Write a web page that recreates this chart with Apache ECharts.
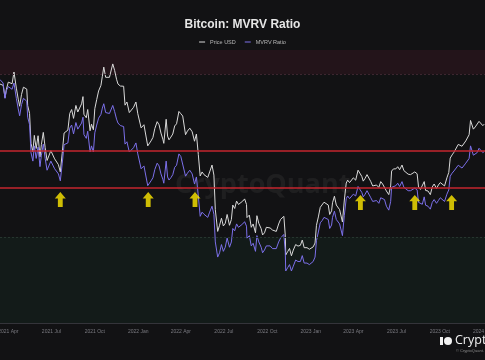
<!DOCTYPE html>
<html><head><meta charset="utf-8">
<script src="https://cdn.jsdelivr.net/npm/echarts@6/dist/echarts.min.js"></script>
<style>html,body{margin:0;padding:0;background:#121214;}#c{width:485px;height:360px;}</style>
</head><body><div id="c"></div>
<script>
const dates = ['2021-03-14','2021-03-18','2021-03-21','2021-03-25','2021-03-28','2021-04-01','2021-04-05','2021-04-09','2021-04-13','2021-04-18','2021-04-22','2021-04-25','2021-04-29','2021-05-03','2021-05-07','2021-05-10','2021-05-12','2021-05-16','2021-05-19','2021-05-23','2021-05-26','2021-05-30','2021-06-03','2021-06-07','2021-06-10','2021-06-14','2021-06-18','2021-06-22','2021-06-26','2021-06-30','2021-07-04','2021-07-08','2021-07-12','2021-07-16','2021-07-20','2021-07-24','2021-07-28','2021-08-01','2021-08-05','2021-08-09','2021-08-13','2021-08-17','2021-08-22','2021-08-26','2021-08-30','2021-09-03','2021-09-06','2021-09-08','2021-09-13','2021-09-16','2021-09-21','2021-09-24','2021-09-28','2021-10-01','2021-10-05','2021-10-09','2021-10-14','2021-10-17','2021-10-20','2021-10-24','2021-10-28','2021-11-01','2021-11-05','2021-11-08','2021-11-12','2021-11-16','2021-11-19','2021-11-24','2021-11-28','2021-12-01','2021-12-04','2021-12-08','2021-12-13','2021-12-17','2021-12-22','2021-12-27','2021-12-31',
'2022-01-04','2022-01-07','2022-01-10','2022-01-13','2022-01-17','2022-01-21','2022-01-24','2022-01-28','2022-02-01','2022-02-05','2022-02-10','2022-02-14','2022-02-18','2022-02-22','2022-02-24','2022-03-01','2022-03-04','2022-03-07','2022-03-11','2022-03-15','2022-03-19','2022-03-23','2022-03-28','2022-04-01','2022-04-05','2022-04-11','2022-04-15','2022-04-20','2022-04-25','2022-04-30','2022-05-04','2022-05-08','2022-05-12','2022-05-16','2022-05-20','2022-05-24','2022-05-28','2022-06-01','2022-06-06','2022-06-10','2022-06-13','2022-06-18','2022-06-22','2022-06-26','2022-06-30','2022-07-04','2022-07-08','2022-07-13','2022-07-17','2022-07-20','2022-07-24','2022-07-28','2022-08-01','2022-08-05','2022-08-10','2022-08-14','2022-08-18','2022-08-19','2022-08-24','2022-08-28','2022-09-01','2022-09-06','2022-09-09','2022-09-13','2022-09-18','2022-09-21','2022-09-25','2022-09-29','2022-10-03','2022-10-07','2022-10-12','2022-10-16','2022-10-20','2022-10-25','2022-10-29','2022-11-05','2022-11-08','2022-11-09','2022-11-13','2022-11-17','2022-11-21','2022-11-25','2022-11-30','2022-12-05','2022-12-10','2022-12-14','2022-12-18','2022-12-24','2022-12-29',
'2023-01-02','2023-01-06','2023-01-10','2023-01-13','2023-01-17','2023-01-21','2023-01-25','2023-01-29','2023-02-02','2023-02-07','2023-02-10','2023-02-14','2023-02-16','2023-02-20','2023-02-24','2023-02-28','2023-03-03','2023-03-09','2023-03-10','2023-03-13','2023-03-17','2023-03-20','2023-03-24','2023-03-28','2023-04-01','2023-04-06','2023-04-11','2023-04-14','2023-04-19','2023-04-22','2023-04-26','2023-04-30','2023-05-04','2023-05-08','2023-05-12','2023-05-16','2023-05-20','2023-05-25','2023-05-29','2023-06-02','2023-06-06','2023-06-10','2023-06-15','2023-06-19','2023-06-21','2023-06-25','2023-06-30','2023-07-04','2023-07-08','2023-07-13','2023-07-17','2023-07-21','2023-07-26','2023-07-31','2023-08-04','2023-08-09','2023-08-14','2023-08-17','2023-08-21','2023-08-25','2023-08-29','2023-09-01','2023-09-06','2023-09-11','2023-09-15','2023-09-19','2023-09-24','2023-09-28','2023-10-02','2023-10-06','2023-10-11','2023-10-16','2023-10-20','2023-10-23','2023-10-27','2023-10-31','2023-11-04','2023-11-09','2023-11-13','2023-11-17','2023-11-21','2023-11-25','2023-11-29','2023-12-02','2023-12-05','2023-12-08','2023-12-11','2023-12-15','2023-12-19','2023-12-23','2023-12-27','2023-12-31','2024-01-03'];

const priceUSD = [58000,58100,57400,52300,55800,58800,58700,58100,63500,56200,51700,49000,53600,56600,57300,55800,49200,46400,37000,34700,39300,35600,39200,33400,36700,40200,35800,32500,32200,35000,35300,32900,33100,31500,29800,34300,40000,39900,40900,46400,47800,44700,49300,46900,47000,49900,52700,46100,44900,47800,40700,42800,41000,48100,51500,55000,57400,61500,65900,61000,60600,61000,61100,67500,64200,60100,58000,57100,57200,57000,49400,50600,46700,46200,48600,50600,46300,
46000,41600,41800,42600,42200,36300,36700,37700,38700,41400,43600,42600,40000,38200,37000,44400,39100,38000,38800,39700,42200,42900,47100,46300,45500,39500,40600,41500,40400,37600,39700,34000,28900,29800,29200,29100,28600,29800,31400,29100,22400,19000,19900,21000,19800,20200,21600,19900,20800,23200,22600,23900,23300,23300,23900,24300,23300,21100,21500,19600,20100,18800,21400,20200,19400,18500,18800,19600,19600,19500,19200,19300,19000,20100,20800,21300,18500,15900,16300,16700,15800,16500,17200,17000,17100,17800,16800,16800,16600,
16700,16900,17400,19900,21200,22800,23100,23700,23500,23200,21600,22200,23600,24800,23200,23100,22400,20400,20200,24100,27400,28000,27500,27100,28500,28000,30200,30500,28800,27800,28400,29200,29000,27700,26800,27000,27000,26500,27700,27200,27200,25800,25100,26800,30000,30500,30500,31000,30300,31400,30100,29900,29300,29200,29100,29800,29400,26600,26100,26100,27700,25900,25800,25100,26600,27200,26300,27000,27500,27900,26800,28500,29700,33100,33900,34600,35000,36700,36500,36200,35800,37700,37900,39500,44000,44200,41200,41900,42200,43700,43400,42300,42800];

const mvrvRatio = [3.55,3.50,3.45,3.05,3.25,3.35,3.30,3.28,3.45,3.05,2.80,2.65,2.90,3.05,3.05,2.98,2.62,2.47,1.97,1.84,2.08,1.88,2.06,1.76,1.93,2.11,1.88,1.71,1.69,1.84,1.85,1.73,1.74,1.66,1.57,1.80,2.10,2.09,2.13,2.40,2.46,2.29,2.51,2.38,2.37,2.50,2.62,2.28,2.21,2.34,1.98,2.08,1.98,2.31,2.46,2.60,2.68,2.82,2.92,2.72,2.70,2.70,2.70,2.88,2.74,2.58,2.50,2.45,2.45,2.43,2.11,2.15,1.98,1.95,2.05,2.13,1.95,
1.92,1.73,1.74,1.77,1.76,1.51,1.52,1.57,1.61,1.72,1.81,1.77,1.66,1.59,1.54,1.84,1.62,1.58,1.61,1.65,1.75,1.78,1.95,1.91,1.88,1.63,1.67,1.71,1.66,1.53,1.62,1.39,1.18,1.22,1.20,1.19,1.17,1.22,1.28,1.20,0.96,0.85,0.88,0.94,0.89,0.92,0.99,0.92,0.96,1.07,1.05,1.11,1.08,1.08,1.11,1.13,1.09,0.99,1.01,0.93,0.95,0.89,1.01,0.96,0.92,0.88,0.90,0.93,0.93,0.93,0.91,0.92,0.91,0.96,0.99,1.02,0.89,0.76,0.78,0.80,0.76,0.79,0.83,0.82,0.82,0.86,0.81,0.81,0.80,
0.81,0.82,0.85,0.97,1.04,1.12,1.14,1.17,1.16,1.15,1.07,1.10,1.17,1.23,1.15,1.15,1.11,1.01,1.00,1.19,1.36,1.39,1.36,1.34,1.41,1.39,1.50,1.51,1.43,1.38,1.41,1.45,1.44,1.37,1.33,1.34,1.34,1.31,1.37,1.35,1.35,1.28,1.24,1.33,1.49,1.51,1.51,1.54,1.50,1.56,1.49,1.48,1.45,1.45,1.44,1.48,1.46,1.32,1.30,1.30,1.38,1.29,1.28,1.25,1.32,1.35,1.31,1.34,1.37,1.38,1.33,1.41,1.46,1.63,1.67,1.70,1.71,1.78,1.76,1.74,1.72,1.81,1.81,1.88,2.08,2.08,1.93,1.96,1.97,2.04,2.02,1.97,1.99];

const tickDates = ['2021-04-01','2021-07-01','2021-10-01','2022-01-01','2022-04-01','2022-07-01','2022-10-01','2023-01-01','2023-04-01','2023-07-01','2023-10-01','2024-01-01'];
const tickLabels = ['2021 Apr','2021 Jul','2021 Oct','2022 Jan','2022 Apr','2022 Jul','2022 Oct','2023 Jan','2023 Apr','2023 Jul','2023 Oct','2024 Jan'];

const arrowDates = ['2021-07-20','2022-01-22','2022-05-01','2023-04-16','2023-08-09','2023-10-26'];
const arrowLevels = [1.35,1.35,1.35,1.32,1.32,1.32];

const refLevels = [2.0, 1.475];
const zoneHigh = [3.7, 4.5];
const zoneLow = [0.5, 1.0];

function ts(s){const p=s.split('-').map(Number);return Date.UTC(p[0],p[1]-1,p[2]);}
const xMin = Date.UTC(2021,2,14,10);
const xMax = xMin + 1026.2*86400000;
const tickTs = tickDates.map(ts);

const chart = echarts.init(document.getElementById('c'), null, {renderer:'canvas'});
chart.setOption({
  backgroundColor:'#121214',
  animation:false,
  title:{text:'Bitcoin: MVRV Ratio',left:'center',top:14,textStyle:{color:'#e6e6e6',fontSize:12,fontWeight:'bold',fontFamily:'Liberation Sans, Arial, sans-serif'}},
  legend:{data:['Price USD','MVRV Ratio'],top:34,left:'center',icon:'rect',itemWidth:6,itemHeight:1,itemGap:9,
    textStyle:{color:'#b8b8b8',fontSize:5.5,fontFamily:'Liberation Sans, Arial, sans-serif'}},
  grid:{left:0,right:0,top:50,bottom:37,containLabel:false,outerBoundsMode:'none'},
  xAxis:{type:'value',min:xMin,max:xMax,
    axisLine:{show:true,lineStyle:{color:'#34343a',width:1}},
    axisTick:{show:true,customValues:tickTs,length:2,inside:true,lineStyle:{color:'#44444a'}},
    axisLabel:{show:true,customValues:tickTs,color:'#7a7a80',fontSize:5,margin:6,fontFamily:'Liberation Sans, Arial, sans-serif',
      formatter:function(v){const i=tickTs.indexOf(v);return i>=0?tickLabels[i]:'';}},
    splitLine:{show:false}},
  yAxis:[
    {type:'log',min:9500,max:75000,show:false,splitLine:{show:false}},
    {type:'log',min:0.5,max:4.5,show:false,splitLine:{show:false}}
  ],
  series:[
    {name:'Price USD',type:'line',yAxisIndex:0,showSymbol:false,symbol:'none',
      lineStyle:{color:'#d9d9d9',width:1},itemStyle:{color:'#d9d9d9'},
      data:dates.map((d,i)=>[ts(d),priceUSD[i]])},
    {name:'MVRV Ratio',type:'line',yAxisIndex:1,showSymbol:false,symbol:'none',
      lineStyle:{color:'#7c70ea',width:1},itemStyle:{color:'#7c70ea'},
      data:dates.map((d,i)=>[ts(d),mvrvRatio[i]]),
      markArea:{silent:true,data:[
        [{yAxis:zoneHigh[0],itemStyle:{color:'#23141a'}},{yAxis:zoneHigh[1]}],
        [{yAxis:zoneLow[0],itemStyle:{color:'#131b19'}},{yAxis:zoneLow[1]}]
      ]},
      markLine:{silent:true,symbol:'none',label:{show:false},data:[
        {yAxis:refLevels[0],lineStyle:{color:'#c4262e',width:1.5,type:'solid'}},
        {yAxis:refLevels[1],lineStyle:{color:'#c4262e',width:1.5,type:'solid'}},
        {yAxis:zoneHigh[0],lineStyle:{color:'#3d2630',width:1,type:[2,2]}},
        {yAxis:zoneLow[1],lineStyle:{color:'#27352f',width:1,type:[2,2]}}
      ]}},
    {name:'arrows',type:'scatter',yAxisIndex:1,silent:true,z:5,
      symbol:'path://M5,0 L10,6 L7.2,6 L7.2,14 L2.8,14 L2.8,6 L0,6 Z',symbolSize:[11,15],
      itemStyle:{color:'#ffe900'},
      data:arrowDates.map((d,i)=>[ts(d),arrowLevels[i]])}
  ],
  graphic:[
    {type:'text',left:175,top:172,z:-1,style:{text:'CryptoQuant',fill:'rgba(255,255,255,0.055)',font:'bold 27px "Open Sans", sans-serif'}},
    {type:'circle',shape:{cx:448,cy:341,r:4},style:{fill:'#f2f2f2'}},
    {type:'rect',shape:{x:440,y:337,width:3,height:8},style:{fill:'#f2f2f2'}},
    {type:'text',left:455,top:334,style:{text:'Crypto',fill:'#f2f2f2',font:'12.5px "Open Sans", sans-serif'}},
    {type:'text',left:456,top:349,style:{text:'© CryptoQuant. All rights reserved.',fill:'#8a8a8a',font:'4px "Liberation Sans", sans-serif'}}
  ]
});
</script></body></html>
